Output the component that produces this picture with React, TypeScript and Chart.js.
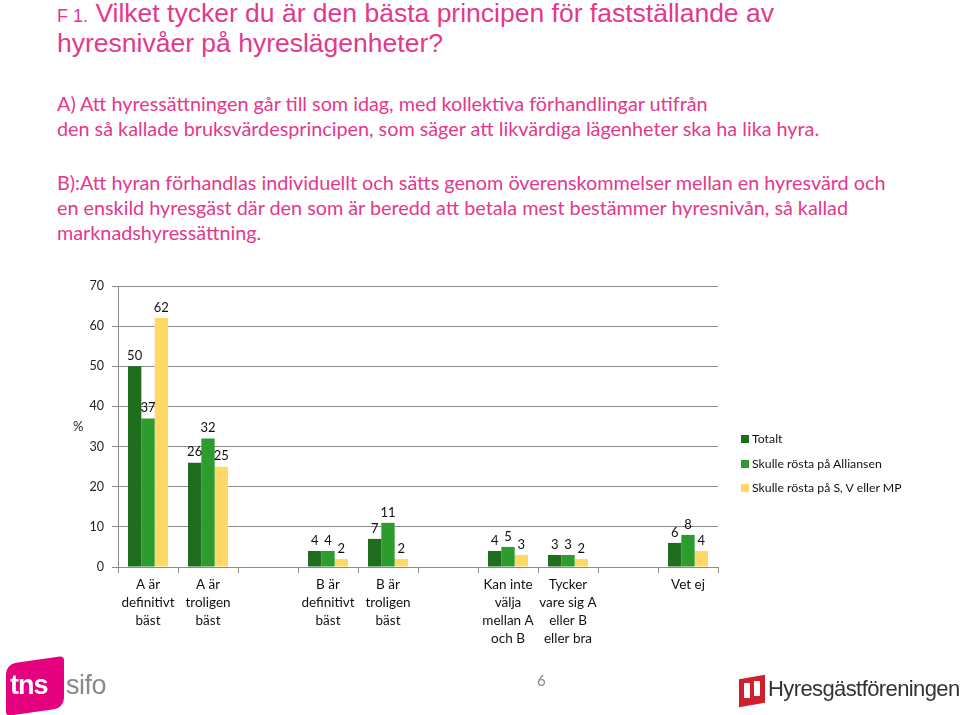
import React, { useEffect, useRef } from "react";
import { Chart, registerables } from "chart.js";

Chart.register(...registerables);

const categories: (string | string[])[] = [
  ["A är", "definitivt", "bäst"],
  ["A är", "troligen", "bäst"],
  "",
  ["B är", "definitivt", "bäst"],
  ["B är", "troligen", "bäst"],
  "",
  ["Kan inte", "välja", "mellan A", "och B"],
  ["Tycker", "vare sig A", "eller B", "eller bra"],
  "",
  ["Vet ej"],
];
const seriesNames = ["Totalt", "Skulle rösta på Alliansen", "Skulle rösta på S, V eller MP"];
const totalt = [50, 26, null, 4, 7, null, 4, 3, null, 6];
const alliansen = [37, 32, null, 4, 11, null, 5, 3, null, 8];
const svmp = [62, 25, null, 2, 2, null, 3, 2, null, 4];
const yTicks = [0, 10, 20, 30, 40, 50, 60, 70];

const colors = ["#1E6E1E", "#2E9B2E", "#FFD966"];
const PINK = "#E4388C";
const FONT = "Lato, 'Open Sans', sans-serif";

const valueLabels = {
  id: "valueLabels",
  afterDatasetsDraw(chart: any) {
    const ctx = chart.ctx;
    ctx.save();
    ctx.font = `13px ${FONT}`;
    ctx.fillStyle = "#111";
    ctx.textAlign = "center";
    ctx.textBaseline = "bottom";
    chart.data.datasets.forEach((ds: any, i: number) => {
      const meta = chart.getDatasetMeta(i);
      meta.data.forEach((el: any, j: number) => {
        const v = ds.data[j];
        if (v == null) return;
        ctx.fillText(String(v), el.x, el.y - 4);
      });
    });
    ctx.restore();
  },
};

function ChartCanvas() {
  const ref = useRef<HTMLCanvasElement | null>(null);
  useEffect(() => {
    if (!ref.current) return;
    const chart = new Chart(ref.current, {
      type: "bar",
      data: {
        labels: categories,
        datasets: [totalt, alliansen, svmp].map((d, i) => ({
          label: seriesNames[i],
          data: d,
          backgroundColor: colors[i],
          borderWidth: 0,
          categoryPercentage: 0.667,
          barPercentage: 1,
        })),
      },
      options: {
        animation: false,
        responsive: false,
        layout: { padding: { top: 286, right: 242, left: 0, bottom: 0 } },
        plugins: { legend: { display: false }, tooltip: { enabled: false } },
        scales: {
          x: {
            grid: {
              offset: true,
              drawOnChartArea: false,
              drawTicks: true,
              tickLength: 6,
              color: "#8c8c8c",
            },
            border: { color: "#8c8c8c" },
            ticks: {
              autoSkip: false,
              maxRotation: 0,
              minRotation: 0,
              padding: 3,
              color: "#111",
              font: { family: FONT, size: 13.5, lineHeight: 1.33 },
            },
            afterFit(scale: any) {
              scale.height = 148;
            },
          },
          y: {
            min: 0,
            max: 70,
            afterBuildTicks(scale: any) {
              scale.ticks = yTicks.map((v) => ({ value: v }));
            },
            grid: { color: "#8c8c8c", tickLength: 6 },
            border: { color: "#8c8c8c" },
            ticks: {
              padding: 8,
              color: "#222",
              font: { family: FONT, size: 12.5 },
            },
            afterFit(scale: any) {
              scale.width = 118;
            },
          },
        },
      },
      plugins: [valueLabels],
    });
    return () => chart.destroy();
  }, []);
  return (
    <canvas
      ref={ref}
      width={960}
      height={715}
      style={{ position: "absolute", left: 0, top: 0, width: 960, height: 715 }}
    />
  );
}

const abs = (left: number, top: number, extra: React.CSSProperties = {}): React.CSSProperties => ({
  position: "absolute",
  left,
  top,
  whiteSpace: "nowrap",
  ...extra,
});

export default function App() {
  const bodyText: React.CSSProperties = { fontFamily: FONT, fontSize: 19.8, color: PINK, lineHeight: "25px" };
  const titleText: React.CSSProperties = { fontFamily: "'Liberation Sans', Arial, sans-serif", color: PINK, fontSize: 26.5, lineHeight: "30px" };
  return (
    <div style={{ position: "fixed", left: 0, top: 0, width: 960, height: 715, background: "#fff", overflow: "hidden" }}>
      <div style={abs(57, -2, titleText)}>
        <span style={{ fontSize: 18 }}>F 1.</span> Vilket tycker du är den bästa principen för fastställande av
      </div>
      <div style={abs(57, 28, titleText)}>hyresnivåer på hyreslägenheter?</div>
      <div style={abs(57, 91, bodyText)}>A) Att hyressättningen går till som idag, med kollektiva förhandlingar utifrån</div>
      <div style={abs(57, 116, bodyText)}>den så kallade bruksvärdesprincipen, som säger att likvärdiga lägenheter ska ha lika hyra.</div>
      <div style={abs(57, 170, bodyText)}>B):Att hyran förhandlas individuellt och sätts genom överenskommelser mellan en hyresvärd och</div>
      <div style={abs(57, 195, bodyText)}>en enskild hyresgäst där den som är beredd att betala mest bestämmer hyresnivån, så kallad</div>
      <div style={abs(57, 220, bodyText)}>marknadshyressättning.</div>

      <ChartCanvas />

      <div style={abs(73, 418, { fontFamily: FONT, fontSize: 13, color: "#222" })}>%</div>

      {seriesNames.map((n, i) => (
        <div key={n} style={abs(741, 431 + i * 24.5, { fontFamily: FONT, fontSize: 12.3, color: "#111", lineHeight: "16px", display: "flex", alignItems: "center" })}>
          <span style={{ display: "inline-block", width: 8, height: 8, background: colors[i], marginRight: 3 }} />
          {n}
        </div>
      ))}

      <div style={abs(537, 671, { fontFamily: FONT, fontSize: 15, color: "#888" })}>6</div>

      {/* tns sifo logo */}
      <div style={abs(6, 660, { width: 58, height: 52, background: "#E5007D", borderRadius: "10px 4px 10px 4px", transform: "skewY(-8deg)" })} />
      <div style={abs(10, 670, { fontFamily: "'Liberation Sans', Arial, sans-serif", fontSize: 27, fontWeight: 700, color: "#fff", letterSpacing: -1 })}>tns</div>
      <div style={abs(66, 670, { fontFamily: "'Liberation Sans', Arial, sans-serif", fontSize: 27, color: "#8a8a8a", letterSpacing: -0.5 })}>sifo</div>

      {/* Hyresgästföreningen logo */}
      <div style={abs(739, 677, { width: 26, height: 28, background: "#D0202E", transform: "skewY(-10deg)" })} />
      <div style={abs(744, 683, { width: 6, height: 15, background: "#fff" })} />
      <div style={abs(754, 681, { width: 6, height: 15, background: "#fff" })} />
      <div style={abs(768, 676, { fontFamily: "'Liberation Sans Narrow', 'Liberation Sans', Arial, sans-serif", fontSize: 22, color: "#333", letterSpacing: -0.6 })}>Hyresgästföreningen</div>
    </div>
  );
}
